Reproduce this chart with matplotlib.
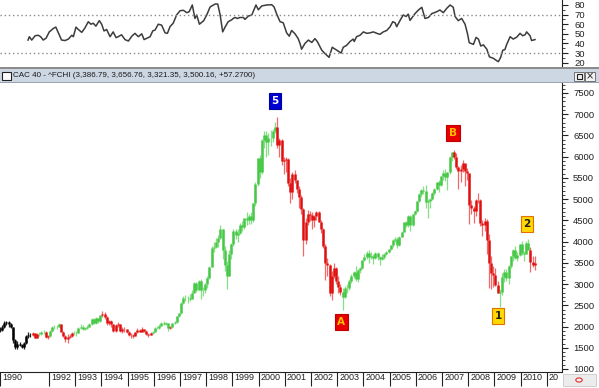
import matplotlib.pyplot as plt
import matplotlib.transforms as mtransforms
from matplotlib.patches import Rectangle, Circle
import numpy as np
import pandas as pd

plt.rcParams['font.family'] = ['Liberation Sans', 'DejaVu Sans']

# CAC 40 monthly bars, Feb 1990 .. Jul 2010
firstOpen = 1950
close = [
	1920, 1990, 2080, 2100, 2050, 1990, 1680, 1520, 1600, 1560, 1517,  # 1990
	1610, 1780, 1810, 1790, 1840, 1740, 1820, 1830, 1860, 1880, 1760, 1766,  # 1991
	1900, 1980, 1990, 2000, 2050, 1880, 1780, 1700, 1750, 1780, 1850, 1857,  # 1992
	1850, 1960, 2000, 1950, 1970, 2000, 2050, 2180, 2080, 2200, 2120, 2268,  # 1993
	2300, 2230, 2080, 2120, 2050, 1900, 2030, 2050, 1900, 1940, 1930, 1881,  # 1994
	1800, 1790, 1770, 1860, 1920, 1880, 1940, 1890, 1830, 1790, 1840, 1872,  # 1995
	1960, 1970, 2020, 2090, 2070, 2080, 1960, 2000, 2080, 2100, 2240, 2316,  # 1996
	2560, 2670, 2680, 2680, 2660, 2800, 3030, 2870, 3080, 2860, 2850, 2999,  # 1997
	3150, 3400, 3850, 3880, 4000, 4080, 4300, 3800, 3450, 3200, 3700, 3943,  # 1998
	4250, 4150, 4200, 4400, 4350, 4550, 4500, 4600, 4520, 4900, 5350, 5958,  # 1999
	5650, 6400, 6500, 6350, 6450, 6450, 6600, 6700, 6270, 6400, 5900, 5926,  # 2000
	5950, 5380, 5180, 5600, 5450, 5230, 5040, 4770, 4040, 4450, 4650, 4625,  # 2001
	4500, 4600, 4690, 4470, 4300, 3900, 3500, 3450, 2780, 3200, 3380, 3063,  # 2002
	2940, 2820, 2700, 2900, 2900, 3080, 3200, 3280, 3130, 3320, 3370, 3557,  # 2003
	3640, 3730, 3630, 3670, 3620, 3730, 3640, 3590, 3640, 3710, 3750, 3821,  # 2004
	3910, 4030, 4070, 3910, 4120, 4230, 4450, 4400, 4600, 4400, 4650, 4715,  # 2005
	4950, 5130, 5220, 5200, 4930, 4960, 5010, 5140, 5250, 5400, 5330, 5541,  # 2006
	5610, 5520, 5630, 6000, 6100, 5990, 5750, 5660, 5720, 5850, 5670, 5614,  # 2007
	4870, 4790, 4710, 4990, 4990, 4430, 4390, 4480, 4030, 3490, 3260, 3218,  # 2008
	2970, 2800, 2810, 3160, 3280, 3140, 3430, 3650, 3800, 3610, 3680, 3936,  # 2009
	3740, 3710, 3970, 3810, 3510, 3440, 3500,  # 2010
]
high = [
	2000, 2030, 2130, 2140, 2120, 2080, 2000, 1700, 1660, 1640, 1600,
	1640, 1800, 1870, 1850, 1880, 1850, 1840, 1870, 1900, 1920, 1890, 1800,
	1920, 2010, 2040, 2030, 2080, 2060, 1900, 1800, 1820, 1830, 1870, 1900,
	1900, 1980, 2060, 2040, 2000, 2040, 2080, 2200, 2200, 2230, 2210, 2280,
	2360, 2340, 2240, 2160, 2150, 2060, 2060, 2110, 2060, 1980, 1990, 1950,
	1900, 1850, 1820, 1880, 1960, 1940, 1980, 1950, 1920, 1850, 1860, 1890,
	1990, 2020, 2060, 2110, 2120, 2110, 2090, 2020, 2090, 2140, 2250, 2330,
	2580, 2710, 2740, 2720, 2760, 2850, 3050, 3060, 3100, 3130, 2920, 3020,
	3200, 3420, 3900, 4000, 4080, 4150, 4400, 4300, 3900, 3550, 3800, 3960,
	4300, 4300, 4300, 4430, 4480, 4560, 4690, 4660, 4700, 4920, 5400, 5980,
	6030, 6420, 6600, 6600, 6550, 6620, 6650, 6820, 6944, 6450, 6420, 6000,
	6000, 5980, 5500, 5650, 5680, 5450, 5300, 5100, 4800, 4550, 4750, 4720,
	4700, 4620, 4720, 4720, 4500, 4320, 3950, 3620, 3480, 3300, 3500, 3400,
	3200, 3000, 2900, 2950, 3000, 3130, 3240, 3300, 3420, 3350, 3410, 3560,
	3700, 3780, 3800, 3750, 3700, 3760, 3750, 3660, 3700, 3740, 3780, 3830,
	3920, 4060, 4110, 4100, 4140, 4250, 4460, 4480, 4620, 4620, 4660, 4750,
	4960, 5140, 5230, 5310, 5330, 5000, 5020, 5160, 5270, 5410, 5450, 5550,
	5680, 5710, 5640, 6010, 6120, 6168, 6090, 5790, 5800, 5930, 5800, 5730,
	5620, 4990, 4850, 5000, 5140, 5000, 4500, 4550, 4530, 4180, 3650, 3420,
	3380, 3080, 2880, 3270, 3350, 3350, 3440, 3660, 3830, 3890, 3760, 3940,
	4020, 3770, 4010, 4070, 3880, 3670, 3660,
]
low = [
	1880, 1900, 1970, 2040, 2000, 1960, 1620, 1460, 1480, 1530, 1490,
	1480, 1600, 1740, 1760, 1770, 1720, 1730, 1780, 1810, 1830, 1730, 1700,
	1760, 1880, 1940, 1950, 1980, 1860, 1750, 1640, 1620, 1720, 1760, 1800,
	1780, 1840, 1940, 1920, 1920, 1950, 1980, 2040, 2050, 2060, 2080, 2110,
	2230, 2180, 2040, 2040, 2000, 1870, 1880, 2000, 1880, 1850, 1880, 1850,
	1780, 1740, 1720, 1770, 1850, 1860, 1870, 1860, 1810, 1760, 1790, 1820,
	1860, 1930, 1950, 2010, 2030, 2040, 1900, 1950, 1970, 2060, 2090, 2220,
	2300, 2540, 2600, 2560, 2600, 2660, 2780, 2820, 2850, 2640, 2720, 2800,
	2900, 3130, 3400, 3750, 3850, 3870, 4070, 3600, 3300, 2880, 3180, 3600,
	3900, 4050, 4000, 4180, 4250, 4300, 4400, 4420, 4420, 4450, 4850, 5300,
	5500, 5600, 6200, 6000, 6050, 6250, 6350, 6550, 6200, 6000, 5800, 5600,
	5650, 5300, 4900, 5000, 5380, 5150, 4800, 4650, 3650, 3950, 4400, 4480,
	4300, 4350, 4520, 4450, 4200, 3850, 3100, 3200, 2730, 2620, 3150, 3000,
	2800, 2750, 2400, 2680, 2780, 2870, 3020, 3150, 3070, 3050, 3270, 3360,
	3540, 3600, 3500, 3580, 3480, 3580, 3560, 3450, 3570, 3600, 3680, 3740,
	3800, 3880, 3990, 3860, 3900, 4100, 4220, 4350, 4350, 4260, 4360, 4620,
	4700, 4940, 5050, 5130, 4800, 4560, 4800, 4970, 5090, 5220, 5180, 5300,
	5450, 5420, 5210, 5600, 5900, 5950, 5700, 5230, 5400, 5650, 5300, 5450,
	4420, 4650, 4430, 4600, 4920, 4370, 4140, 4260, 3700, 2900, 2880, 2940,
	2950, 2790, 2465, 2750, 3040, 3080, 3010, 3380, 3550, 3590, 3540, 3660,
	3680, 3550, 3700, 3800, 3290, 3400, 3320,
]

# RSI line of the upper panel (year, value)
rsiYear = [
	1991.20, 1991.25, 1991.34, 1991.47, 1991.59, 1991.68, 1991.78, 1991.89, 1992.01, 1992.10,
	1992.16, 1992.26, 1992.35, 1992.48, 1992.61, 1992.74, 1992.87, 1992.93, 1993.03, 1993.12,
	1993.25, 1993.37, 1993.50, 1993.60, 1993.69, 1993.79, 1993.92, 1994.01, 1994.10, 1994.20,
	1994.33, 1994.45, 1994.56, 1994.64, 1994.77, 1994.90, 1995.03, 1995.16, 1995.28, 1995.41,
	1995.54, 1995.63, 1995.79, 1995.86, 1995.96, 1996.05, 1996.17, 1996.30, 1996.43, 1996.52,
	1996.62, 1996.74, 1996.87, 1997.00, 1997.13, 1997.26, 1997.35, 1997.47, 1997.57, 1997.64,
	1997.74, 1997.90, 1998.02, 1998.15, 1998.34, 1998.44, 1998.53, 1998.63, 1998.72, 1998.84,
	1998.97, 1999.03, 1999.10, 1999.19, 1999.29, 1999.42, 1999.48, 1999.61, 1999.74, 1999.90,
	1999.99, 2000.12, 2000.31, 2000.50, 2000.59, 2000.69, 2000.82, 2000.94, 2001.07, 2001.17,
	2001.26, 2001.39, 2001.51, 2001.58, 2001.64, 2001.77, 2001.90, 2002.03, 2002.15, 2002.24,
	2002.41, 2002.53, 2002.69, 2002.81, 2002.98, 2003.15, 2003.23, 2003.36, 2003.49, 2003.61,
	2003.65, 2003.74, 2003.87, 2004.00, 2004.13, 2004.25, 2004.38, 2004.51, 2004.63, 2004.76,
	2004.89, 2005.02, 2005.12, 2005.21, 2005.27, 2005.40, 2005.52, 2005.63, 2005.71, 2005.78,
	2005.97, 2006.10, 2006.23, 2006.35, 2006.48, 2006.61, 2006.80, 2006.92, 2007.05, 2007.18,
	2007.31, 2007.43, 2007.50, 2007.62, 2007.75, 2007.88, 2007.97, 2008.04, 2008.20, 2008.30,
	2008.39, 2008.48, 2008.58, 2008.71, 2008.81, 2008.96, 2009.09, 2009.15, 2009.24, 2009.32,
	2009.40, 2009.47, 2009.60, 2009.72, 2009.85, 2009.98, 2010.08, 2010.17, 2010.23, 2010.36,
	2010.42, 2010.55,
]
rsiValue = [
	43.5, 47, 43.5, 48, 48.5, 47, 43.5, 45.5, 52, 54,
	55.5, 57, 51.5, 43.5, 43, 44.5, 48.5, 47, 57, 54.5,
	51.5, 56, 62.6, 60, 61, 58, 63.7, 60, 53, 54.5,
	47, 52, 46, 47, 49, 44, 42.5, 47.5, 50.5, 47,
	50, 44, 46, 47, 53, 54, 60, 59, 51, 50.5,
	57.5, 61, 69.6, 74, 74.5, 72, 73, 80, 66, 69.6,
	60, 63.5, 69.6, 78, 81, 81, 70, 52, 57, 62.6,
	64.5, 66, 67, 66, 67, 67, 65, 68.5, 69.6, 80,
	75, 79, 80, 80.3, 78, 70.6, 62.6, 61.5, 51, 47.5,
	53.5, 50, 45, 40, 34, 40, 43.5, 41, 45, 42,
	33, 29.5, 25.5, 36, 33, 30, 36, 38, 42, 44.5,
	42, 47, 48.5, 52, 50.5, 51, 52, 50.5, 49.5, 52,
	53.5, 57.4, 62.6, 61.5, 57.4, 64, 69.6, 68, 70.5, 64,
	71, 74.8, 77.6, 66, 67, 71, 73, 74.8, 72, 76.5,
	80, 77.6, 68, 63.7, 66, 60, 50.5, 40.7, 39, 46.3,
	44.5, 37.3, 38.5, 34, 26, 24.5, 22, 21, 25.5, 33,
	33.5, 39, 47, 44.5, 46.5, 50.5, 48, 49, 52, 48,
	43, 44,
]

# trend colouring of the bars (start year of each leg)
trendStart = [1990.0, 1991.3, 1991.55, 1991.8, 1992.0, 1992.4, 1992.9, 1994.0,
	1995.95, 1996.55, 1996.7, 2000.7, 2003.2, 2007.45, 2009.2, 2010.3]
trendColor = ['k', 'r', 'g', 'r', 'g', 'r', 'g', 'r', 'g', 'r', 'g', 'r', 'g', 'r', 'g', 'r']

# Elliott wave labels
waveLabel = ['5', 'B', 'A', '1', '2']
waveYear = [2000.63, 2007.42, 2003.15, 2009.14, 2010.25]
wavePrice = [7312, 6558, 2107, 2248, 4415]

title = 'CAC 40 - ^FCHI (3,386.79, 3,656.76, 3,321.35, 3,500.16, +57.2700)'

W, H = 599, 388
fig = plt.figure(figsize=(W / 100, H / 100), dpi=100)
xlim = (1990.13, 2011.58)

# ---- RSI panel
axr = fig.add_axes([0, 1 - 66 / H, 562 / W, 66 / H])
axr.plot(rsiYear, rsiValue, color='#3c3c3c', lw=1.1)
for lvl in [70, 30]:
	axr.axhline(lvl, color='#8a8a8a', lw=1, ls=(0, (1, 2)))
axr.set_xlim(*xlim)
axr.set_ylim(16.5, 85.2)
axr.set_xticks([])
axr.yaxis.tick_right()
axr.set_yticks([20, 30, 40, 50, 60, 70, 80])
axr.set_yticks(np.arange(20, 85, 5), minor=True)
axr.tick_params(axis='y', which='major', length=4, width=0.8, pad=5, labelsize=6.8, colors='#222222')
axr.tick_params(axis='y', which='minor', length=2, width=0.6, colors='#222222')
for s in ['top', 'left', 'bottom']:
	axr.spines[s].set_visible(False)
axr.spines['right'].set_color('#222222')

# ---- title bar
fig.patches.append(Rectangle((0, 1 - 69 / H), 1, 2 / H, transform=fig.transFigure, fc='#8c8c8c', ec='none'))
fig.patches.append(Rectangle((0, 1 - 82 / H), 1, 13 / H, transform=fig.transFigure, fc='#cdd7e3', ec='none'))
fig.patches.append(Rectangle((0, 1 - 82.5 / H), 1, 1 / H, transform=fig.transFigure, fc='#9aa4b0', ec='none'))
fig.patches.append(Rectangle((2 / W, 1 - 79.5 / H), 9 / W, 7 / H, transform=fig.transFigure, fc='white', ec='#202020', lw=0.8))
fig.text(13 / W, 1 - 75.5 / H, title, fontsize=5.8, color='#1a1a1a', va='center', ha='left')
fig.patches.append(Rectangle((574 / W, 1 - 81 / H), 10 / W, 9 / H, transform=fig.transFigure, fc='#f2f2f2', ec='#606060', lw=0.6))
fig.patches.append(Rectangle((576.5 / W, 1 - 79 / H), 5 / W, 5 / H, transform=fig.transFigure, fc='none', ec='#202020', lw=0.8))
fig.patches.append(Rectangle((585 / W, 1 - 81 / H), 10 / W, 9 / H, transform=fig.transFigure, fc='#f2f2f2', ec='#606060', lw=0.6))
fig.text(590 / W, 1 - 76.7 / H, '×', fontsize=7, color='#202020', ha='center', va='center', family='DejaVu Sans')

# ---- price panel
ax = fig.add_axes([0, 1 - 372 / H, 562 / W, 290 / H])
dates = pd.date_range('1990-02-01', periods=len(close), freq='MS')
x = dates.year + (dates.month - 0.5) / 12
opens = [firstOpen] + close[:-1]
wickCol = {'k': '#202020', 'g': '#86df86', 'r': '#f06a6a'}
bodyCol = {'k': '#000000', 'g': '#45c845', 'r': '#e01010'}
leg = np.searchsorted(trendStart, x, side='right') - 1
cols = [trendColor[i] for i in leg]
ax.vlines(x, low, high, colors=[wickCol[c] for c in cols], lw=0.9)
ax.vlines(x, np.minimum(opens, close), np.maximum(opens, close), colors=[bodyCol[c] for c in cols], lw=1.8)

waveStyle = {
	'5': dict(fc='#0000d0', ec='#0000a0', tc='white'),
	'B': dict(fc='#e80000', ec='#c00000', tc='#ffc000'),
	'A': dict(fc='#e80000', ec='#c00000', tc='#ffc000'),
	'1': dict(fc='#ffd800', ec='#e07000', tc='#202020'),
	'2': dict(fc='#ffd800', ec='#e07000', tc='#202020'),
}
for lab, yr, pr in zip(waveLabel, waveYear, wavePrice):
	st = waveStyle[lab]
	ax.text(yr, pr, lab, fontsize=7.5, fontweight='bold', color=st['tc'], ha='center', va='center',
		family='DejaVu Sans', bbox=dict(boxstyle='square,pad=0.25', fc=st['fc'], ec=st['ec'], lw=0.8))

ax.set_xlim(*xlim)
ax.set_ylim(929, 7759)
ax.yaxis.tick_right()
ax.set_yticks(np.arange(1000, 7501, 500))
ax.set_yticks(np.arange(1000, 7701, 100), minor=True)
ax.tick_params(axis='y', which='major', length=4, width=0.8, pad=4, labelsize=6.8, colors='#222222')
ax.tick_params(axis='y', which='minor', length=2, width=0.6, colors='#222222')
yearTicks = [1990.13] + list(range(1992, 2012))
yearLabels = ['1990'] + [str(y) for y in range(1992, 2011)] + ['20']
ax.set_xticks(yearTicks)
ax.set_xticklabels(yearLabels)
ax.tick_params(axis='x', length=10, width=0.8, pad=-9, labelsize=6.5, colors='#222222')
shift = mtransforms.ScaledTranslation(1.5 / 72, 0, fig.dpi_scale_trans)
for lbl in ax.get_xticklabels():
	lbl.set_horizontalalignment('left')
	lbl.set_transform(lbl.get_transform() + shift)
for s in ['top', 'left']:
	ax.spines[s].set_visible(False)
ax.spines['right'].set_color('#222222')
ax.spines['bottom'].set_color('#222222')

# little box in the bottom right corner
fig.patches.append(Rectangle((563 / W, 1 - 386 / H), 33 / W, 12 / H, transform=fig.transFigure, fc='#ececec', ec='#c8c8c8', lw=0.6, zorder=5))
fig.patches.append(Circle((579 / W, 1 - 380 / H), 3.2 / W, transform=fig.transFigure, fc='none', ec='#e03030', lw=0.8, zorder=6))

fig.savefig('out.png', dpi=100)
